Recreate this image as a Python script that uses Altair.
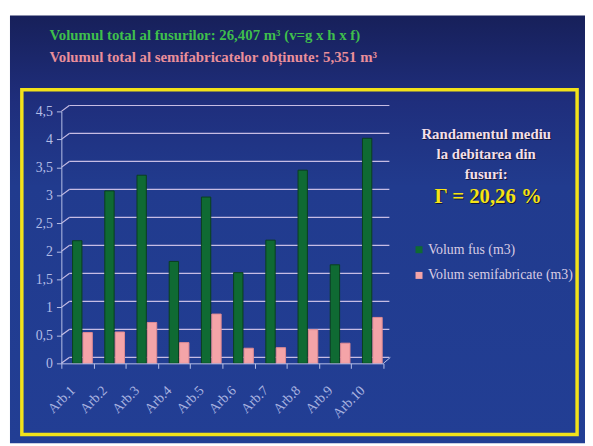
import altair as alt
import pandas as pd

categories = ["Arb.1", "Arb.2", "Arb.3", "Arb.4", "Arb.5",
              "Arb.6", "Arb.7", "Arb.8", "Arb.9", "Arb.10"]
volum_fus = [2.19, 3.08, 3.36, 1.82, 2.97, 1.62, 2.20, 3.45, 1.76, 4.02]
volum_semi = [0.55, 0.56, 0.73, 0.37, 0.88, 0.27, 0.28, 0.60, 0.36, 0.82]
series_names = ["Volum fus (m3)", "Volum semifabricate (m3)"]
series_colors = ["#0f6a33", "#f4a4a8"]
y_ticks = [0, 0.5, 1, 1.5, 2, 2.5, 3, 3.5, 4, 4.5]

title1 = "Volumul total al fusurilor: 26,407 m³   (v=g x h x f)"
title2 = "Volumul total al semifabricatelor obținute: 5,351 m³"
box_lines = ["Randamentul mediu", "la debitarea din", "fusuri:"]
gamma_text = "Γ = 20,26 %"

rows = []
for c, a, b in zip(categories, volum_fus, volum_semi):
    rows.append({"cat": c, "series": series_names[0], "v": a})
    rows.append({"cat": c, "series": series_names[1], "v": b})
df = pd.DataFrame(rows)
grid_df = pd.DataFrame({"v": y_ticks})

SERIF = "Liberation Serif"
AXC = "#b8c0e8"
GRIDC = "#c6bce4"
one = alt.Data(values=[{}])

y_axis = alt.Axis(title=None, values=y_ticks, grid=False, zindex=1,
                  labelExpr="replace(toString(datum.value), '.', ',')",
                  labelFont=SERIF, labelFontSize=14,
                  labelColor="#b3bce6", labelPadding=4,
                  tickColor=AXC, tickSize=5, domainColor=AXC)
y_scale = alt.Scale(domain=[0, 4.5], nice=False)

bg = alt.Chart(one).mark_rect(
    color=alt.Gradient(
        gradient="linear", x1=0, y1=0, x2=0, y2=1,
        stops=[alt.GradientStop(offset=0, color="#17205a"),
               alt.GradientStop(offset=0.2, color="#1f2e7c"),
               alt.GradientStop(offset=0.4, color="#213b8e"),
               alt.GradientStop(offset=1, color="#223e94")])
).encode(x=alt.value(-52), x2=alt.value(531), y=alt.value(-97), y2=alt.value(336))

border = alt.Chart(one).mark_rect(
    fill=None, stroke="#f2e21a", strokeWidth=3.5
).encode(x=alt.value(-40), x2=alt.value(522), y=alt.value(-22), y2=alt.value(327))

grid_back = alt.Chart(grid_df).mark_rule(
    color=GRIDC, strokeWidth=1.2, yOffset=-6
).encode(y=alt.Y("v:Q", scale=y_scale, axis=y_axis),
         x=alt.value(8), x2=alt.value(332))

grid_diag = alt.Chart(grid_df).mark_rule(
    color=GRIDC, strokeWidth=1.2, y2Offset=-6
).encode(y=alt.Y("v:Q", scale=y_scale, axis=y_axis), y2="v:Q",
         x=alt.value(0), x2=alt.value(8))

floor_diag = alt.Chart(one).mark_rule(color=AXC, strokeWidth=1).encode(
    x=alt.value(326), x2=alt.value(333), y=alt.value(255), y2=alt.value(249))

bars = alt.Chart(df).mark_bar(strokeWidth=1).encode(
    x=alt.X("cat:N", sort=categories,
            scale=alt.Scale(paddingInner=0, paddingOuter=0),
            axis=alt.Axis(title=None, labelAngle=-45, labelAlign="right",
                          labelBaseline="middle", labelFont=SERIF,
                          labelFontSize=14, labelColor="#a9b3e0",
                          labelPadding=20, labelOffset=-5, zindex=1,
                          tickBand="extent", tickColor=AXC,
                          tickSize=5, domainColor=AXC, grid=False)),
    xOffset=alt.XOffset("series:N", sort=series_names,
                        scale=alt.Scale(paddingInner=0.1, paddingOuter=0.6,
                                        align=0.9)),
    y=alt.Y("v:Q", scale=y_scale, axis=y_axis),
    color=alt.Color("series:N", sort=series_names,
                    scale=alt.Scale(domain=series_names, range=series_colors),
                    legend=alt.Legend(title=None, orient="none",
                                      legendX=355, legendY=133, padding=0,
                                      symbolType="square", symbolSize=50,
                                      symbolStrokeWidth=0,
                                      labelFont=SERIF, labelFontSize=14,
                                      labelColor="#d8cce4", rowPadding=12,
                                      labelOffset=2)),
    stroke=alt.Stroke("series:N", sort=series_names,
                      scale=alt.Scale(domain=series_names,
                                      range=["#0a3f1e", "#e08a92"]),
                      legend=None),
)

def txt(s, x, y, color, size, weight="bold", align="left"):
    return alt.Chart(one).mark_text(
        font=SERIF, fontSize=size, fontWeight=weight, color=color,
        align=align, baseline="middle"
    ).encode(x=alt.value(x), y=alt.value(y), text=alt.value(s))

texts = [
    txt(title1, -12, -77, "#3fbf4c", 15),
    txt(title2, -12, -55, "#ea8f9a", 15),
]
for i, line in enumerate(box_lines):
    texts.append(txt(line, 431, 24 + 20 * i, "#12183a", 15, align="center"))
    texts.append(txt(line, 430, 23 + 20 * i, "#f3dfe8", 15, align="center"))
texts.append(txt(gamma_text, 433, 88, "#12183a", 21, align="center"))
texts.append(txt(gamma_text, 432, 87, "#f5e415", 21, align="center"))

chart = alt.layer(bg, border, grid_back, grid_diag, floor_diag, bars, *texts).properties(
    width=326, height=255,
    autosize=alt.AutoSizeParams(type="none"),
    padding={"left": 54, "top": 102, "right": 204, "bottom": 80},
    background="white",
).configure_view(stroke=None, strokeWidth=0)

chart.save("out.html", embed_options={"renderer": "svg", "actions": False})
